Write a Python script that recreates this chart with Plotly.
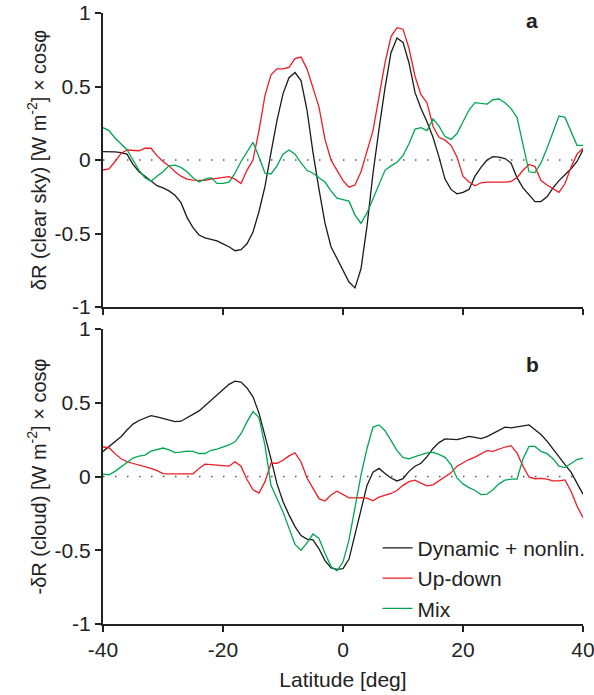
import plotly.graph_objects as go

lat = list(range(-40, 41))

# Panel a: clear sky
dyn_a = [0.057, 0.057, 0.055, 0.05, 0.04, -0.03, -0.08, -0.11, -0.145, -0.175,
         -0.19, -0.21, -0.24, -0.29, -0.39, -0.46, -0.51, -0.53, -0.54, -0.55,
         -0.57, -0.59, -0.617, -0.61, -0.57, -0.49, -0.35, -0.18, 0.05, 0.27,
         0.45, 0.56, 0.595, 0.54, 0.34, 0.05, -0.20, -0.43, -0.59, -0.67,
         -0.74, -0.83, -0.87, -0.74, -0.45, -0.09, 0.21, 0.49, 0.73, 0.83,
         0.80, 0.66, 0.46, 0.35, 0.26, 0.155, 0.02, -0.13, -0.20, -0.23,
         -0.22, -0.20, -0.11, -0.05, 0.0, 0.023, 0.02, 0.01, -0.02, -0.12,
         -0.19, -0.24, -0.283, -0.283, -0.25, -0.19, -0.14, -0.10, -0.06, -0.01,
         0.07]
ud_a = [-0.068, -0.06, -0.01, 0.045, 0.068, 0.065, 0.063, 0.08, 0.08, 0.03,
        -0.01, -0.04, -0.08, -0.11, -0.13, -0.137, -0.14, -0.138, -0.13, -0.125,
        -0.12, -0.113, -0.13, -0.16, -0.07, 0.0, 0.2, 0.44, 0.58, 0.62,
        0.62, 0.63, 0.69, 0.70, 0.62, 0.49, 0.36, 0.14, 0.0, -0.07,
        -0.14, -0.185, -0.17, -0.08, 0.055, 0.20, 0.43, 0.66, 0.84, 0.90,
        0.89, 0.76, 0.57, 0.445, 0.39, 0.23, 0.155, 0.135, 0.10, 0.02,
        -0.11, -0.15, -0.175, -0.155, -0.15, -0.15, -0.153, -0.15, -0.146, -0.12,
        -0.07, -0.03, -0.045, -0.14, -0.17, -0.195, -0.22, -0.16, -0.05, 0.04,
        0.08]
mix_a = [0.22, 0.20, 0.15, 0.11, 0.07, 0.0, -0.07, -0.12, -0.145, -0.11,
         -0.08, -0.04, -0.035, -0.05, -0.08, -0.12, -0.15, -0.13, -0.12, -0.159,
         -0.159, -0.15, -0.09, -0.01, 0.06, 0.12, 0.02, -0.09, -0.095, -0.04,
         0.04, 0.068, 0.04, -0.02, -0.07, -0.09, -0.12, -0.15, -0.21, -0.26,
         -0.27, -0.28, -0.375, -0.43, -0.36, -0.26, -0.17, -0.07, -0.04, -0.015,
         0.03, 0.11, 0.21, 0.22, 0.20, 0.28, 0.23, 0.16, 0.14, 0.18,
         0.26, 0.34, 0.39, 0.385, 0.38, 0.41, 0.415, 0.39, 0.35, 0.29,
         0.10, -0.08, -0.086, -0.02, 0.08, 0.19, 0.30, 0.29, 0.19, 0.10,
         0.10]

# Panel b: cloud
dyn_b = [0.17, 0.205, 0.24, 0.27, 0.315, 0.355, 0.38, 0.395, 0.413, 0.405,
         0.395, 0.385, 0.372, 0.375, 0.40, 0.425, 0.445, 0.48, 0.515, 0.555,
         0.59, 0.625, 0.646, 0.64, 0.60, 0.54, 0.43, 0.28, 0.12, -0.05,
         -0.17, -0.26, -0.34, -0.40, -0.424, -0.43, -0.49, -0.57, -0.62, -0.63,
         -0.625, -0.56, -0.40, -0.23, -0.06, 0.03, 0.055, 0.02, -0.01, -0.03,
         -0.015, 0.035, 0.07, 0.09, 0.135, 0.19, 0.23, 0.255, 0.255, 0.25,
         0.26, 0.272, 0.265, 0.257, 0.27, 0.29, 0.31, 0.335, 0.33, 0.335,
         0.345, 0.35, 0.317, 0.285, 0.24, 0.185, 0.13, 0.08, 0.03, -0.04,
         -0.12]
ud_b = [0.20, 0.195, 0.155, 0.12, 0.10, 0.09, 0.08, 0.07, 0.055, 0.04,
        0.02, 0.018, 0.018, 0.018, 0.018, 0.018, 0.055, 0.084, 0.08, 0.075,
        0.07, 0.07, 0.10, 0.07, -0.02, -0.09, -0.113, -0.035, 0.09, 0.09,
        0.11, 0.14, 0.16, 0.10, -0.01, -0.085, -0.15, -0.166, -0.125, -0.10,
        -0.12, -0.145, -0.145, -0.143, -0.147, -0.165, -0.14, -0.13, -0.115, -0.095,
        -0.06, -0.035, -0.025, -0.045, -0.063, -0.057, -0.03, 0.0, 0.025, 0.07,
        0.095, 0.115, 0.132, 0.155, 0.175, 0.17, 0.185, 0.20, 0.209, 0.16,
        0.07, -0.003, -0.015, -0.012, -0.018, -0.03, -0.03, -0.023, -0.10, -0.20,
        -0.28]
mix_b = [0.016, 0.012, 0.035, 0.065, 0.10, 0.125, 0.138, 0.145, 0.172, 0.183,
         0.193, 0.18, 0.162, 0.165, 0.172, 0.17, 0.156, 0.156, 0.178, 0.186,
         0.20, 0.215, 0.235, 0.29, 0.37, 0.44, 0.40, 0.21, -0.06, -0.15,
         -0.24, -0.35, -0.46, -0.50, -0.45, -0.39, -0.42, -0.52, -0.61, -0.64,
         -0.58, -0.43, -0.20, 0.01, 0.19, 0.335, 0.35, 0.31, 0.245, 0.175,
         0.13, 0.12, 0.135, 0.145, 0.16, 0.163, 0.15, 0.13, 0.08, -0.01,
         -0.05, -0.075, -0.095, -0.123, -0.12, -0.09, -0.05, -0.025, -0.018, -0.018,
         0.12, 0.204, 0.204, 0.17, 0.155, 0.12, 0.07, 0.06, 0.09, 0.115,
         0.125]

series_names = ["Dynamic + nonlin.", "Up-down", "Mix"]
colors = ["#1a1a1a", "#ee1c25", "#00a651"]

x_ticks = [-40, -20, 0, 20, 40]
x_ticktext = ["-40", "-20", "0", "20", "40"]
y_ticks = [-1, -0.5, 0, 0.5, 1]
y_ticktext = ["-1", "-0.5", "0", "0.5", "1"]

ytitle_a = "δR (clear sky) [W m<sup>-2</sup>] × cosφ"
ytitle_b = "-δR (cloud) [W m<sup>-2</sup>] × cosφ"
xtitle = "Latitude [deg]"
panel_labels = ["a", "b"]

FONT = "Liberation Sans, Arial, sans-serif"
INK = "#222"

fig = go.Figure()

for ys, name, col in zip([dyn_a, ud_a, mix_a], series_names, colors):
    fig.add_trace(go.Scatter(x=lat, y=ys, mode="lines", name=name, xaxis="x", yaxis="y",
                             line=dict(color=col, width=1.3), showlegend=False))
for ys, name, col in zip([dyn_b, ud_b, mix_b], series_names, colors):
    fig.add_trace(go.Scatter(x=lat, y=ys, mode="lines", name=name, xaxis="x2", yaxis="y2",
                             line=dict(color=col, width=1.3), showlegend=True))

xaxis_common = dict(range=[-40, 40], tickvals=x_ticks, ticktext=x_ticktext,
                    showgrid=False, zeroline=False, showline=True, linecolor=INK,
                    linewidth=2, ticks="outside", ticklen=6, tickwidth=2, tickcolor=INK,
                    tickfont=dict(family=FONT, size=21, color=INK),
                    automargin=False, ticklabeloverflow="allow")
yaxis_common = dict(range=[-1, 1], tickvals=y_ticks, ticktext=y_ticktext,
                    showgrid=False, zeroline=False, showline=True, linecolor=INK,
                    linewidth=2, ticks="outside", ticklen=6, tickwidth=2, tickcolor=INK,
                    tickfont=dict(family=FONT, size=21, color=INK),
                    automargin=False, ticklabeloverflow="allow")

dom_a = [0.5188, 1.0]
dom_b = [0.0, 0.4828]

fig.update_layout(
    xaxis=dict(**xaxis_common, anchor="y", showticklabels=False),
    yaxis=dict(**yaxis_common, anchor="x", domain=dom_a,
               title=dict(text=ytitle_a, font=dict(family=FONT, size=20, color=INK), standoff=3)),
    xaxis2=dict(**xaxis_common, anchor="y2",
                title=dict(text=xtitle, font=dict(family=FONT, size=21, color=INK), standoff=12)),
    yaxis2=dict(**yaxis_common, anchor="x2", domain=dom_b,
                title=dict(text=ytitle_b, font=dict(family=FONT, size=20, color=INK), standoff=3)),
)

# dotted zero reference lines
for yref, xref in [("y", "x"), ("y2", "x2")]:
    fig.add_shape(type="line", xref=xref + " domain", yref=yref, x0=0, x1=1, y0=0, y1=0,
                  line=dict(color="#555", width=1.5, dash="1.5px,10.5px"), layer="below")

# panel letters
fig.add_annotation(x=31.5, y=0.95, xref="x", yref="y", text="<b>%s</b>" % panel_labels[0],
                   showarrow=False, font=dict(family=FONT, size=21, color=INK))
fig.add_annotation(x=31.5, y=0.76, xref="x2", yref="y2", text="<b>%s</b>" % panel_labels[1],
                   showarrow=False, font=dict(family=FONT, size=21, color=INK))

fig.update_layout(
    width=594, height=695,
    margin=dict(l=103, r=11, t=13, b=71, autoexpand=False),
    paper_bgcolor="white", plot_bgcolor="white",
    font=dict(family=FONT, size=21, color=INK),
    legend=dict(x=0.572, y=0.075, xanchor="left", yanchor="middle",
                bgcolor="rgba(0,0,0,0)", font=dict(family=FONT, size=21, color=INK),
                tracegroupgap=0, itemwidth=30),
)

fig.write_html("out.html")
